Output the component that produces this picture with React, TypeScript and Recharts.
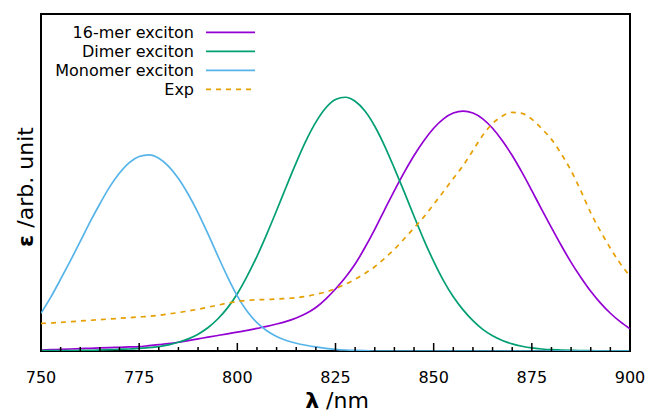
import React from 'react';
import { LineChart, Line, XAxis, YAxis, ReferenceArea } from 'recharts';

// wavelength grid (nm)
const wavelength = [
  750, 752.5, 755, 757.5, 760, 762.5, 765, 767.5, 770, 772.5,
  775, 777.5, 780, 782.5, 785, 787.5, 790, 792.5, 795, 797.5,
  800, 802.5, 805, 807.5, 810, 812.5, 815, 817.5, 820, 822.5,
  825, 827.5, 830, 832.5, 835, 837.5, 840, 842.5, 845, 847.5,
  850, 852.5, 855, 857.5, 860, 862.5, 865, 867.5, 870, 872.5,
  875, 877.5, 880, 882.5, 885, 887.5, 890, 892.5, 895, 897.5,
  900,
];

const mer16 = [
  0.003, 0.004, 0.005, 0.006, 0.007, 0.008, 0.009, 0.01, 0.011, 0.012,
  0.013, 0.016, 0.019, 0.022, 0.026, 0.031, 0.036, 0.041, 0.046, 0.051,
  0.056, 0.061, 0.067, 0.073, 0.08, 0.088, 0.098, 0.111, 0.129, 0.154,
  0.184, 0.218, 0.258, 0.307, 0.361, 0.419, 0.476, 0.53, 0.58, 0.624,
  0.661, 0.689, 0.706, 0.712, 0.706, 0.689, 0.661, 0.624, 0.58, 0.53,
  0.476, 0.42, 0.366, 0.313, 0.263, 0.218, 0.177, 0.142, 0.112, 0.087,
  0.066,
];

const dimer = [
  0.001, 0.001, 0.001, 0.001, 0.002, 0.002, 0.003, 0.004, 0.005, 0.006,
  0.008, 0.01, 0.013, 0.018, 0.026, 0.036, 0.05, 0.069, 0.095, 0.128,
  0.17, 0.222, 0.281, 0.347, 0.417, 0.489, 0.559, 0.624, 0.679, 0.721,
  0.746, 0.753, 0.741, 0.712, 0.667, 0.609, 0.542, 0.472, 0.4, 0.33,
  0.266, 0.209, 0.161, 0.122, 0.09, 0.064, 0.045, 0.031, 0.021, 0.014,
  0.009, 0.006, 0.004, 0.003, 0.002, 0.001, 0.001, 0, 0, 0,
  0,
];

const monomer = [
  0.112, 0.16, 0.213, 0.268, 0.325, 0.383, 0.437, 0.487, 0.528, 0.559,
  0.577, 0.582, 0.572, 0.548, 0.512, 0.465, 0.41, 0.348, 0.283, 0.22,
  0.163, 0.118, 0.084, 0.06, 0.043, 0.031, 0.023, 0.017, 0.012, 0.008,
  0.005, 0.003, 0.002, 0.001, 0, 0, 0, 0, 0, 0,
  0, 0, 0, 0, 0, 0, 0, 0, 0, 0,
  0, 0, 0, 0, 0, 0, 0, 0, 0, 0,
  0,
];

const expSpec = [
  0.082, 0.083, 0.085, 0.087, 0.089, 0.091, 0.093, 0.095, 0.097, 0.099,
  0.101, 0.103, 0.106, 0.11, 0.114, 0.119, 0.124, 0.13, 0.136, 0.142,
  0.147, 0.15, 0.152, 0.153, 0.154, 0.156, 0.158, 0.162, 0.168, 0.175,
  0.185, 0.198, 0.213, 0.23, 0.25, 0.275, 0.302, 0.333, 0.365, 0.398,
  0.435, 0.473, 0.512, 0.55, 0.595, 0.64, 0.675, 0.697, 0.708, 0.705,
  0.688, 0.66, 0.628, 0.585, 0.535, 0.475, 0.41, 0.355, 0.305, 0.26,
  0.222,
];

const majorTicks = [750, 775, 800, 825, 850, 875, 900];
const allTicks = [
  750, 755, 760, 765, 770, 775, 780, 785, 790, 795,
  800, 805, 810, 815, 820, 825, 830, 835, 840, 845,
  850, 855, 860, 865, 870, 875, 880, 885, 890, 895, 900,
];

const series = [
  { key: 'mer16', name: '16-mer exciton', color: '#9400D3', dash: undefined },
  { key: 'dimer', name: 'Dimer exciton', color: '#009E73', dash: undefined },
  { key: 'monomer', name: 'Monomer exciton', color: '#56B4E9', dash: undefined },
  { key: 'expSpec', name: 'Exp', color: '#E69F00', dash: '5 5' },
];

const data = wavelength.map((w, i) => ({
  w,
  mer16: mer16[i],
  dimer: dimer[i],
  monomer: monomer[i],
  expSpec: expSpec[i],
}));

const FONT = "'DejaVu Sans', sans-serif";

const Tick = (props: any) => {
  const { x, y, payload } = props;
  const major = majorTicks.includes(payload.value);
  return (
    <g>
      <line x1={x} y1={y} x2={x} y2={y - (major ? 8 : 4)} stroke="#000" strokeWidth={1.5} />
      {major && (
        <text x={x} y={y + 32} textAnchor="middle" fontSize={16} fill="#000" fontFamily={FONT}>
          {payload.value}
        </text>
      )}
    </g>
  );
};

export default function App() {
  return (
    <div style={{ position: 'absolute', left: 0, top: 0, width: 651, height: 416, background: '#fff' }}>
      <LineChart
        width={651}
        height={416}
        data={data}
        margin={{ top: 14, right: 21, bottom: 0, left: 41 }}
      >
        <XAxis
          dataKey="w"
          type="number"
          domain={[750, 900]}
          ticks={allTicks}
          interval={0}
          height={65}
          axisLine={false}
          tickLine={false}
          tickSize={0}
          tickMargin={0}
          tick={<Tick />}
          allowDataOverflow
        />
        <YAxis type="number" domain={[0, 1]} hide allowDataOverflow />
        <ReferenceArea x1={750} x2={900} y1={0} y2={1} fill="none" stroke="#000" strokeWidth={2} ifOverflow="visible" />
        {series.map((s) => (
          <Line
            key={s.key}
            dataKey={s.key}
            name={s.name}
            type="monotone"
            stroke={s.color}
            strokeWidth={1.7}
            strokeDasharray={s.dash}
            dot={false}
            activeDot={false}
            isAnimationActive={false}
          />
        ))}
      </LineChart>
      <svg
        width={651}
        height={416}
        style={{ position: 'absolute', left: 0, top: 0, pointerEvents: 'none' }}
        fontFamily={FONT}
      >
        {series.map((s, i) => (
          <g key={s.key}>
            <text x={194} y={38 + i * 19} textAnchor="end" fontSize={16} fill="#000">
              {s.name}
            </text>
            <line
              x1={206}
              x2={255}
              y1={32.3 + i * 19}
              y2={32.3 + i * 19}
              stroke={s.color}
              strokeWidth={1.7}
              strokeDasharray={s.dash}
            />
          </g>
        ))}
        <text x={337} y={408} textAnchor="middle" fontSize={22} fill="#000">
          <tspan fontWeight="bold">λ</tspan>
          <tspan> /nm</tspan>
        </text>
        <text x={33} y={187} transform="rotate(-90 33 187)" textAnchor="middle" fontSize={22} fill="#000">
          <tspan fontWeight="bold">ε</tspan>
          <tspan> /arb. unit</tspan>
        </text>
      </svg>
    </div>
  );
}
